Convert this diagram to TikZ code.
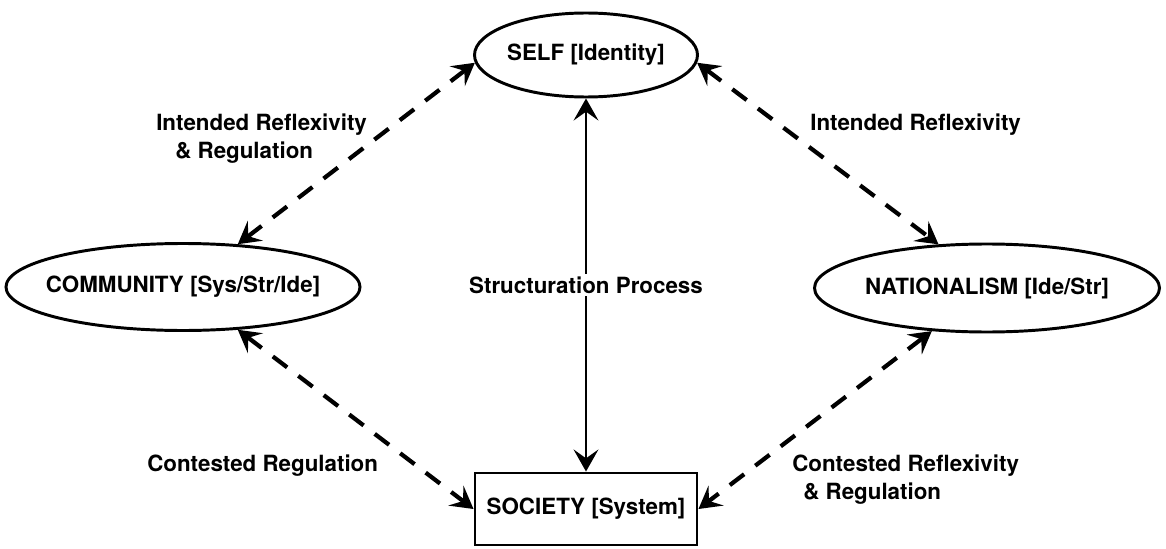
\documentclass[tikz,border=0pt]{standalone}
\usepackage{fontspec}
\setmainfont{TeX Gyre Heros}
\usetikzlibrary{shapes.geometric, arrows.meta}
\tikzstyle{flow} = [line width=1.9pt,<->,>={Stealth[length=0.55cm,width=0.62cm,inset=0.22cm]}]
\tikzstyle{reflex} = [flow,line width=3pt,dash pattern=on 0.45cm off 0.35cm]
\tikzstyle{bignode} = [draw, ellipse, line width=2.1pt, inner xsep=-0.3cm, inner ysep=0pt]
\tikzstyle{sysbox} = [draw, rectangle, line width=2.1pt, minimum width=5.55cm, minimum height=1.8cm]
\tikzstyle{lbl} = [inner sep=0pt, align=left, anchor=west]

\begin{document}
\begin{tikzpicture}[every node/.style={font=\fontsize{15.9}{19.9}\selectfont\bfseries}]
        \useasboundingbox (0,0) rectangle (29.15,13.7);
        \node (self) [bignode, minimum width=5.575cm, minimum height=2.1cm] at (14.65,12.325) {SELF [Identity]};
        \node (comm) [bignode, minimum width=8.625cm, minimum height=2.175cm] at (4.575,6.525) {COMMUNITY [Sys/Str/Ide]};
        \node (nat) [bignode, minimum width=8.625cm, minimum height=2.2cm] at (24.675,6.5) {NATIONALISM [Ide/Str]};
        \node (soc) [sysbox] at (14.65,0.975) {SOCIETY [System]};

        \draw [flow] (self) -- node[fill=white, inner sep=2pt] {Structuration Process} (soc);
        \draw [reflex] (comm.38) -- (self.184);
        \draw [reflex] (self.356) -- (nat.138);
        \draw [reflex] (comm.322) -- (soc.west);
        \draw [reflex] (nat.218) -- (soc.east);

        \node (l1) [lbl] at (3.9,10.24) {Intended Reflexivity\\\hspace*{0.475cm}\& Regulation};
        \node (l2) [lbl] at (20.25,10.59) {Intended Reflexivity};
        \node (l3) [lbl] at (3.675,2.07) {Contested Regulation};
        \node (l4) [lbl] at (19.8,1.70) {Contested Reflexivity\\\hspace*{0.275cm}\& Regulation};
      \end{tikzpicture}
\end{document}
